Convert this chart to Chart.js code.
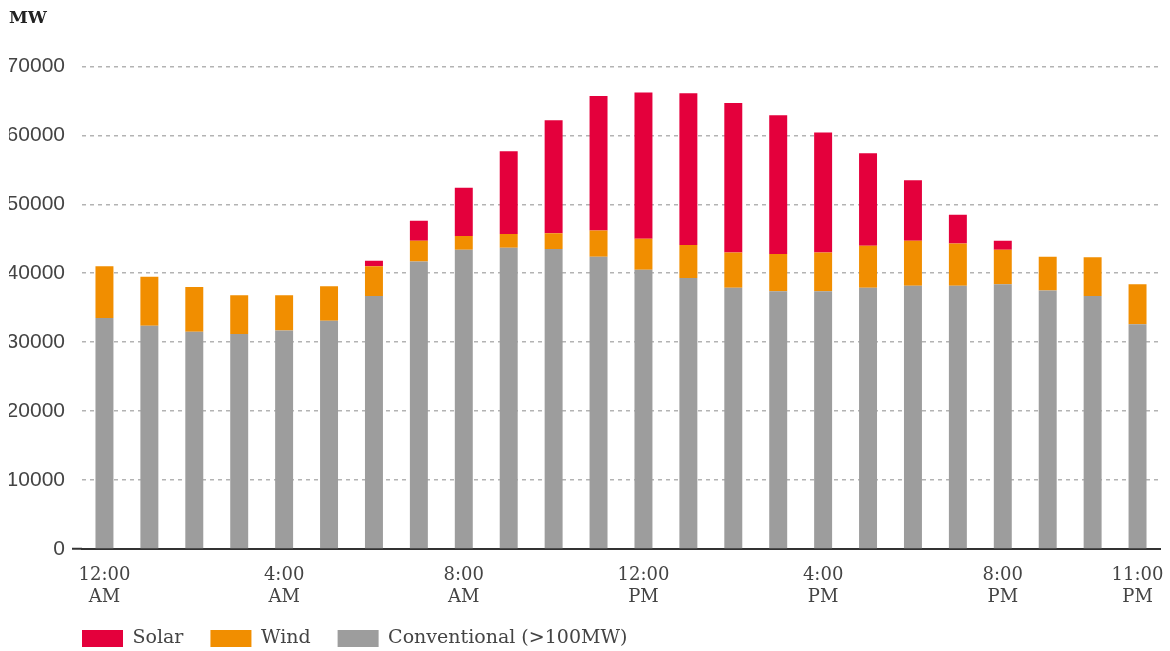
<!DOCTYPE html>
<html>
<head>
<meta charset="utf-8">
<title>Generation by source</title>
<script src="https://cdn.jsdelivr.net/npm/chart.js@4.4.1/dist/chart.umd.min.js"></script>
<style>
  html, body { margin: 0; padding: 0; background: #fff; }
  #wrap { width: 1170px; height: 651px; position: relative; }
</style>
</head>
<body>
<div id="wrap"><canvas id="genChart"></canvas></div>
<script>
// hourly generation, MW
const hours = [
  '12:00 AM', '1:00 AM', '2:00 AM', '3:00 AM', '4:00 AM', '5:00 AM',
  '6:00 AM', '7:00 AM', '8:00 AM', '9:00 AM', '10:00 AM', '11:00 AM',
  '12:00 PM', '1:00 PM', '2:00 PM', '3:00 PM', '4:00 PM', '5:00 PM',
  '6:00 PM', '7:00 PM', '8:00 PM', '9:00 PM', '10:00 PM', '11:00 PM'
];
const labelledHours = ['12:00 AM', '4:00 AM', '8:00 AM', '12:00 PM', '4:00 PM', '8:00 PM', '11:00 PM'];

const conventional = [33500, 32400, 31500, 31200, 31700, 33100, 36700, 41700, 43400, 43700, 43500, 42400,
                      40500, 39300, 37900, 37400, 37400, 37900, 38200, 38200, 38400, 37500, 36700, 32600];
const wind = [7500, 7100, 6500, 5600, 5100, 5000, 4300, 3000, 2000, 2000, 2300, 3800,
              4500, 4800, 5100, 5400, 5600, 6100, 6500, 6100, 5000, 4900, 5600, 5800];
const solar = [0, 0, 0, 0, 0, 0, 800, 2900, 7000, 12000, 16400, 19500,
               21200, 22000, 21700, 20100, 17400, 13400, 8800, 4200, 1300, 0, 0, 0];

const yMax = 70000;
const yStep = 10000;

const serif = '"DejaVu Serif", serif';

// legend starts under the plot, not at the canvas edge, and sits a bit tighter to the axis labels
const legendShift = {
  id: 'legendShift',
  afterLayout(chart) {
    const lg = chart.legend;
    if (!lg) return;
    lg.left = chart.chartArea.left - lg.options.labels.padding;
    lg.top -= 5;
  }
};

new Chart(document.getElementById('genChart'), {
  type: 'bar',
  data: {
    labels: hours,
    datasets: [
      { label: 'Conventional (>100MW)', data: conventional, backgroundColor: '#9d9d9d' },
      { label: 'Wind', data: wind, backgroundColor: '#f18e00' },
      { label: 'Solar', data: solar, backgroundColor: '#e4003c' }
    ]
  },
  options: {
    responsive: true,
    maintainAspectRatio: false,
    animation: false,
    barPercentage: 0.4,
    categoryPercentage: 1,
    layout: { padding: { left: 9, right: 10, top: 8, bottom: -12 } },
    plugins: {
      title: {
        display: true,
        text: 'MW',
        align: 'start',
        color: '#222',
        font: { family: serif, size: 17, weight: 'bold' },
        padding: { top: 0, bottom: 38 }
      },
      legend: {
        position: 'bottom',
        align: 'start',
        reverse: true,
        labels: {
          boxWidth: 41,
          boxHeight: 17,
          padding: 27,
          color: '#444',
          font: { family: serif, size: 19 }
        }
      },
      tooltip: { enabled: false }
    },
    scales: {
      x: {
        stacked: true,
        afterFit: scale => {
          scale.height = 58;
          scale.paddingLeft = 0;
          scale.paddingRight = 0;
        },
        grid: { display: true, drawOnChartArea: false, drawTicks: false },
        border: { display: true, color: '#333', width: 2 },
        ticks: {
          autoSkip: false,
          maxRotation: 0,
          padding: 16,
          color: '#444',
          font: { family: serif, size: 18 },
          callback: function (value) {
            const name = this.getLabelForValue(value);
            return labelledHours.includes(name) ? name.split(' ') : '';
          }
        }
      },
      y: {
        stacked: true,
        min: 0,
        max: yMax,
        afterFit: scale => { scale.width = 73; },
        border: { display: false, dash: [4, 4] },
        grid: {
          color: ctx => ctx.tick && ctx.tick.value === 0 ? 'transparent' : '#b3b3b3',
          lineWidth: 1.5,
          tickLength: 10,
          tickWidth: 2,
          tickColor: ctx => ctx.tick && ctx.tick.value === 0 ? '#333' : 'transparent'
        },
        ticks: {
          stepSize: yStep,
          padding: 7,
          color: '#444',
          font: { family: '"Liberation Sans", Arial, sans-serif', size: 21 },
          callback: v => String(v)
        }
      }
    }
  },
  plugins: [legendShift]
});
</script>
</body>
</html>
